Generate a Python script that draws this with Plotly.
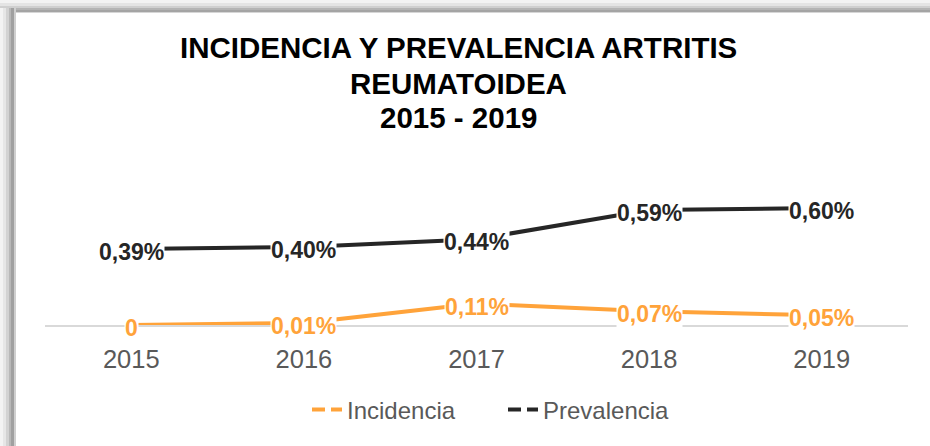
import plotly.graph_objects as go

# ---- data ----
years = ["2015", "2016", "2017", "2018", "2019"]
incidencia = [0.00, 0.01, 0.11, 0.07, 0.05]      # percent
prevalencia = [0.39, 0.40, 0.44, 0.59, 0.60]     # percent
series_names = ["Incidencia", "Prevalencia"]
title_lines = ["INCIDENCIA Y PREVALENCIA ARTRITIS", "REUMATOIDEA", "2015 - 2019"]

# ---- style ----
W, H = 930, 446
L, R, T, B = 45, 22, 130, 121
ORANGE = "#FFA33A"
BLACK = "#262626"
GRAY_TXT = "#595959"
FONT = "Liberation Sans, Arial, sans-serif"


def fmt(v):
    return "0" if v == 0 else f"{v:.2f}%".replace(".", ",")


def px_x(px):
    return (px - L) / (W - L - R)


def px_y(py):
    return (H - B - py) / (H - T - B)


fig = go.Figure()

# actual lines (solid)
for name, vals, col in [(series_names[0], incidencia, ORANGE), (series_names[1], prevalencia, BLACK)]:
    fig.add_trace(go.Scatter(
        x=years, y=vals, mode="lines", name=name, showlegend=False,
        line=dict(color=col, width=4), cliponaxis=False, hoverinfo="skip"))

# legend-only entries (dashed symbols, like the original)
for name, col in [(series_names[0], ORANGE), (series_names[1], BLACK)]:
    fig.add_trace(go.Scatter(
        x=[None], y=[None], mode="lines", name=name,
        line=dict(color=col, width=4, dash="13px,6px")))

# data labels with white background boxes
annotations = []
for vals, col in [(incidencia, ORANGE), (prevalencia, BLACK)]:
    for i, v in enumerate(vals):
        annotations.append(dict(
            x=i, y=v, xref="x", yref="y", text="<b>" + fmt(v) + "</b>", showarrow=False,
            xanchor="center", yanchor="middle", yshift=-3,
            bgcolor="white", borderpad=0,
            font=dict(family=FONT, size=23, color=col)))

# title (one annotation per line to control line spacing)
for line, ypx in zip(title_lines, [48, 83, 117]):
    annotations.append(dict(
        x=px_x(458), y=px_y(ypx), xref="paper", yref="paper",
        text="<b>" + line + "</b>", showarrow=False,
        xanchor="center", yanchor="middle", align="center",
        font=dict(family=FONT, size=29.5, color="black")))

# frame shadow (top and left edges)
shapes = []
top_band = [(0, 3, "#f3f3f3"), (3, 6, "#e4e4e4"), (6, 8, "#cfcfcf"), (8, 10, "#b4b4b4"), (10, 12, "#a4a4a4"), (12, 13, "#d6d6d6")]
for y0, y1, c in top_band:
    shapes.append(dict(type="rect", xref="paper", yref="paper",
                       x0=px_x(0), x1=px_x(W), y0=px_y(y1), y1=px_y(y0),
                       fillcolor=c, line=dict(width=0), layer="above"))
left_band = [(0, 3, "#f3f3f3"), (3, 6, "#e6e6e6"), (6, 9, "#d2d2d2"), (9, 11, "#b8b8b8"), (11, 14, "#a0a0a0"), (14, 16, "#cfcfcf")]
for x0, x1, c in left_band:
    shapes.append(dict(type="rect", xref="paper", yref="paper",
                       x0=px_x(x0), x1=px_x(x1), y0=px_y(H), y1=px_y(8),
                       fillcolor=c, line=dict(width=0), layer="above"))

fig.update_layout(
    width=W, height=H,
    margin=dict(l=L, r=R, t=T, b=B, autoexpand=False),
    paper_bgcolor="white", plot_bgcolor="white",
    showlegend=True,
    legend=dict(orientation="h", x=px_x(307), xanchor="left", y=px_y(410), yanchor="middle",
                font=dict(family=FONT, size=24, color=GRAY_TXT),
                entrywidth=151, entrywidthmode="pixels",
                bgcolor="rgba(0,0,0,0)"),
    annotations=annotations,
    shapes=shapes,
    hovermode=False,
)
fig.update_xaxes(
    type="category", range=[-0.5, 4.5], showgrid=False, zeroline=False,
    showline=True, linecolor="#d9d9d9", linewidth=2,
    ticks="outside", ticklen=10, tickcolor="rgba(0,0,0,0)",
    tickfont=dict(family=FONT, size=25.5, color=GRAY_TXT), fixedrange=True)
fig.update_yaxes(range=[0, 1.0], visible=False, showgrid=False, zeroline=False, fixedrange=True)

fig.write_html("out.html", config={"displayModeBar": False},
               post_script="document.body.style.margin='0px';")
